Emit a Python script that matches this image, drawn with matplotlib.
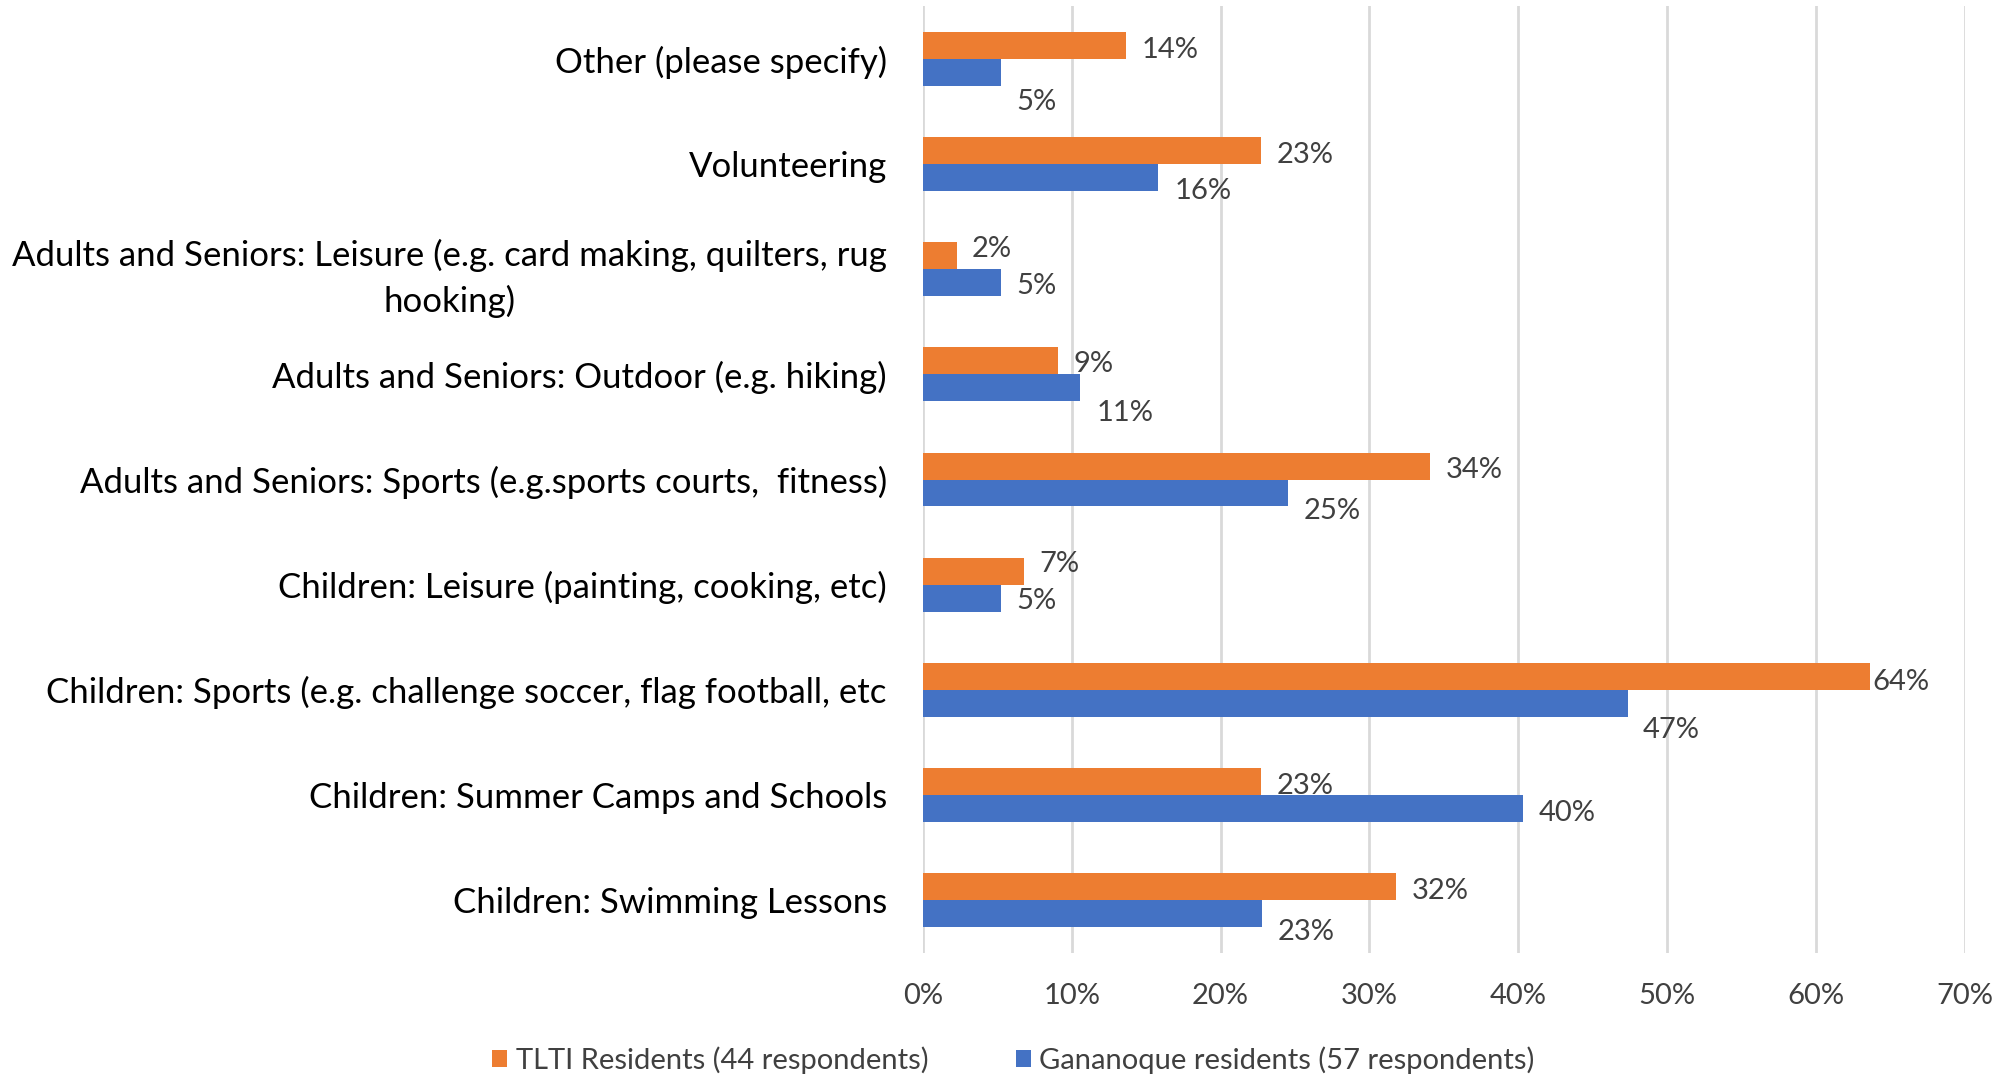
import matplotlib.pyplot as plt
import numpy as np

plt.rcParams['font.family'] = ['Lato', 'DejaVu Sans']

categories = [
    "Other (please specify)",
    "Volunteering",
    "Adults and Seniors: Leisure (e.g. card making, quilters, rug\nhooking)",
    "Adults and Seniors: Outdoor (e.g. hiking)",
    "Adults and Seniors: Sports (e.g.sports courts,  fitness)",
    "Children: Leisure (painting, cooking, etc)",
    "Children: Sports (e.g. challenge soccer, flag football, etc",
    "Children: Summer Camps and Schools",
    "Children: Swimming Lessons",
]
tlti = [13.64, 22.73, 2.27, 9.09, 34.09, 6.82, 63.64, 22.73, 31.82]
gananoque = [5.26, 15.79, 5.26, 10.53, 24.56, 5.26, 47.37, 40.35, 22.81]
series_names = ["TLTI Residents (44 respondents)", "Gananoque residents (57 respondents)"]

# label nudges in points (x, y-down) so labels don't collide
tlti_dx = [11, 11, 11, 11, 11, 11, 2, 11, 11]
tlti_dy = [3, 3, -5, 2, 3, -5, 4, 3, 3]
gan_dx = [11, 12, 11, 12, 11, 11, 11, 11, 11]
gan_dy = [21, 10, 2, 18, 13, 2, 19, 3, 13]

orange = '#ED7D31'
blue = '#4472C4'
txt = '#404040'

fig = plt.figure(figsize=(20.15, 10.74), dpi=100)
ax = fig.add_axes([0.458, 0.113, 0.517, 0.881])

y = np.arange(len(categories))
h = 0.256
b1 = ax.barh(y - h / 2, tlti, height=h, color=orange, label=series_names[0], zorder=3)
b2 = ax.barh(y + h / 2, gananoque, height=h, color=blue, label=series_names[1], zorder=3)

for i in range(len(categories)):
    ax.annotate(f"{tlti[i]:.0f}%", (tlti[i], y[i] - h / 2), xytext=(tlti_dx[i], -tlti_dy[i]),
                textcoords='offset points', ha='left', va='center', fontsize=21, color=txt)
    ax.annotate(f"{gananoque[i]:.0f}%", (gananoque[i], y[i] + h / 2), xytext=(gan_dx[i], -gan_dy[i]),
                textcoords='offset points', ha='left', va='center', fontsize=21, color=txt)

ax.set_ylim(8.5, -0.5)
ax.set_xlim(0, 70)
ax.set_xticks(np.arange(0, 71, 10))
ax.set_xticklabels([f"{v}%" for v in range(0, 71, 10)], fontsize=21, color=txt)
ax.set_yticks(y)
ax.set_yticklabels(categories, fontsize=25, color='black', ha='right',
                   multialignment='center', linespacing=1.45)
ax.tick_params(axis='y', length=0, pad=26)
ax.tick_params(axis='x', length=0, pad=22)
ax.grid(axis='x', color='#D9D9D9', linewidth=2, zorder=0)
for s in ax.spines.values():
    s.set_visible(False)

fig.legend(handles=[b1, b2], labels=series_names, loc='center', bbox_to_anchor=(0.503, 0.013),
           ncol=2, frameon=False, fontsize=21, handlelength=0.5, handleheight=0.5,
           handletextpad=0.3, columnspacing=3.0, labelcolor=txt)

fig.savefig('out.png', dpi=100)
